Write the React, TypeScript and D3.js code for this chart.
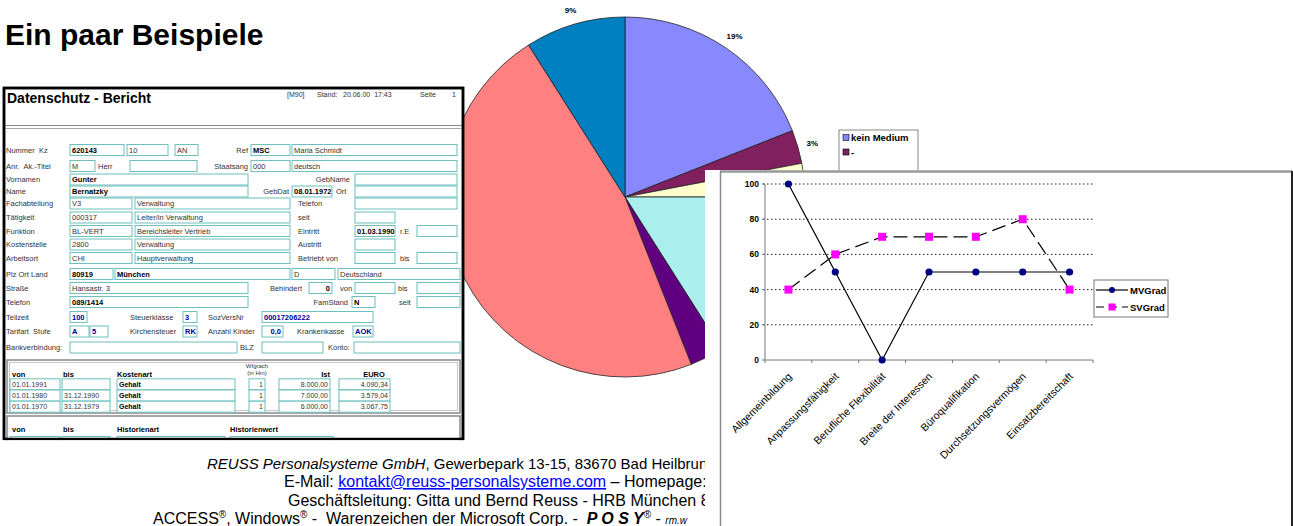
import React from 'react';
import * as d3 from 'd3';

const W = 1293;
const H = 526;
const FONT = 'Liberation Sans, Arial, Helvetica, sans-serif';
const NB = '\u00A0';

// Liniendiagramm
const categories = ['Allgemeinbildung', 'Anpassungsfähigkeit', 'Berufliche Flexibilität', 'Breite der Interessen', 'Büroqualifikation', 'Durchsetzungsvermögen', 'Einsatzbereitschaft'];
const mvGrad = [100, 50, 0, 50, 50, 50, 50];
const svGrad = [40, 60, 70, 70, 70, 80, 40];
const yTicks = [0, 20, 40, 60, 80, 100];
const seriesNames = ['MVGrad', 'SVGrad'];

// Kreisdiagramm
const pieValues = [19, 3, 3, 16, 3, 47, 9];
const pieColors = ['#8888ff', '#80205f', '#ffffcc', '#aaeeee', '#600080', '#ff8080', '#0080c0'];
const pieLabels = ['19%', '3%', '3%', '16%', '', '47%', '9%'];
const pieLegend = ['kein Medium', '-'];

// Formular (Screenshot)
type Box = [number, number, string, string?];
type Txt = [number, string, string?];
type Row = { y: number; label: string; boxes: Box[]; texts: Txt[] };

const formRows: Row[] = [
  { y: 150, label: 'Nummer  Kz', boxes: [[70, 124, '620143', 'b'], [127, 168, '10'], [175, 198, 'AN'], [251, 290, 'MSC', 'b'], [292, 457, 'Maria Schmidt']], texts: [[248, 'Ref', 'end']] },
  { y: 166, label: 'Anr.  Ak.-Titel', boxes: [[70, 95, 'M'], [130, 197, ''], [251, 290, '000'], [292, 457, 'deutsch']], texts: [[98, 'Herr'], [248, 'Staatsang', 'end']] },
  { y: 179.5, label: 'Vornamen', boxes: [[70, 248, 'Gunter', 'b'], [355, 457, '']], texts: [[350, 'GebName', 'end']] },
  { y: 191.5, label: 'Name', boxes: [[70, 248, 'Bernatzky', 'b'], [292, 332, '08.01.1972', 'b'], [355, 457, '']], texts: [[289, 'GebDat', 'end'], [336, 'Ort']] },
  { y: 203.5, label: 'Fachabteilung', boxes: [[70, 132, 'V3'], [135, 290, 'Verwaltung'], [355, 457, '']], texts: [[298, 'Telefon']] },
  { y: 217.5, label: 'Tätigkeit', boxes: [[70, 132, '000317'], [135, 290, 'Leiter/in Verwaltung'], [355, 395, '']], texts: [[298, 'seit']] },
  { y: 231, label: 'Funktion', boxes: [[70, 132, 'BL-VERT'], [135, 290, 'Bereichsleiter Vertrieb'], [355, 395, '01.03.1990', 'b'], [417, 457, '']], texts: [[298, 'Eintritt'], [400, 'r.E']] },
  { y: 244.5, label: 'Kostenstelle', boxes: [[70, 132, '2800'], [135, 290, 'Verwaltung'], [355, 395, '']], texts: [[298, 'Austritt']] },
  { y: 258, label: 'Arbeitsort', boxes: [[70, 132, 'CHI'], [135, 290, 'Hauptverwaltung'], [355, 395, ''], [417, 457, '']], texts: [[298, 'Betriebt von'], [400, 'bis']] },
  { y: 274, label: 'Plz Ort Land', boxes: [[70, 113, '80919', 'b'], [115, 290, 'München', 'b'], [292, 335, 'D'], [338, 460, 'Deutschland']], texts: [] },
  { y: 288, label: 'Straße', boxes: [[70, 248, 'Hansastr. 3'], [309, 332, '0', 'br'], [355, 395, ''], [417, 460, '']], texts: [[302, 'Behindert', 'end'], [340, 'von'], [398, 'bis']] },
  { y: 302, label: 'Telefon', boxes: [[70, 248, '089/1414', 'b'], [352, 375, 'N', 'b'], [417, 460, '']], texts: [[348, 'FamStand', 'end'], [399, 'seit']] },
  { y: 317, label: 'Teilzeit', boxes: [[70, 87, '100', 'u'], [183, 197, '3', 'u'], [262, 373, '00017206222', 'u']], texts: [[130, 'Steuerklasse'], [208, 'SozVersNr']] },
  { y: 331.5, label: 'Tarifart  Stufe', boxes: [[70, 89, 'A', 'u'], [90, 108, '5', 'u'], [183, 197, 'RK', 'u'], [262, 283, '0,0', 'ur'], [353, 373, 'AOK', 'u']], texts: [[130, 'Kirchensteuer'], [208, 'Anzahl Kinder'], [297, 'Krankenkasse']] },
  { y: 347.5, label: 'Bankverbindung:', boxes: [[70, 237, ''], [262, 323, ''], [354, 460, '']], texts: [[240, 'BLZ'], [328, 'Konto:']] },
];

const payCols: [number, number, string][] = [[10, 60, 'l'], [62, 110, 'l'], [117, 235, 'b'], [249, 265, 'r'], [279, 330, 'r'], [339, 390, 'r']];
const payRows = [
  ['01.01.1991', '', 'Gehalt', '1', '8.000,00', '4.090,34'],
  ['01.01.1980', '31.12.1990', 'Gehalt', '1', '7.000,00', '3.579,04'],
  ['01.01.1970', '31.12.1979', 'Gehalt', '1', '6.000,00', '3.067,75'],
];

function FormBox({ b, y }: { b: Box; y: number }) {
  const [x1, x2, text, f = ''] = b;
  const bold = f.includes('b') || f.includes('u');
  const right = f.includes('r');
  return (
    <g>
      <rect x={x1} y={y - 5.5} width={x2 - x1} height={11} fill="#fff" stroke="#6cc0c0" strokeWidth={1} />
      {text && (
        <text x={right ? x2 - 2 : x1 + 2} y={y + 2.7} textAnchor={right ? 'end' : 'start'} fontSize={7.5}
          fontWeight={bold ? 'bold' : 'normal'} fill={f.includes('u') ? '#000099' : bold ? '#000' : '#333'}>{text}</text>
      )}
    </g>
  );
}

function Formular() {
  return (
    <g fontFamily={FONT}>
      <rect x={4} y={88} width={459} height={351} fill="#fff" stroke="#000" strokeWidth={2.5} />
      <text x={7} y={103} fontSize={14} fontWeight="bold">Datenschutz - Bericht</text>
      <g fontSize={7} fill="#333">
        <text x={287} y={97}>[M90]</text>
        <text x={317} y={97}>Stand:</text>
        <text x={343} y={97}>{`20.06.00${NB}${NB}17:43`}</text>
        <text x={420} y={97}>Seite</text>
        <text x={452} y={97}>1</text>
      </g>
      <line x1={5} x2={462} y1={125.5} y2={125.5} stroke="#888" strokeWidth={1.2} />
      <line x1={5} x2={462} y1={128.5} y2={128.5} stroke="#aaa" strokeWidth={1.2} />
      {formRows.map((r, i) => (
        <g key={i}>
          <text x={6} y={r.y + 2.7} fontSize={7.5} fill="#333">{r.label.replace(/  /g, NB + NB)}</text>
          {r.boxes.map((b, j) => <FormBox key={j} b={b} y={r.y} />)}
          {r.texts.map((t, j) => (
            <text key={j} x={t[0]} y={r.y + 2.7} fontSize={7.5} fill="#333" textAnchor={t[2] === 'end' ? 'end' : 'start'}>{t[1]}</text>
          ))}
        </g>
      ))}
      {/* Tabelle Kostenarten */}
      <rect x={7} y={360} width={453} height={53} fill="#fff" stroke="#888" strokeWidth={1.5} />
      <rect x={9.5} y={362.5} width={448} height={48} fill="none" stroke="#bbb" strokeWidth={0.8} />
      <g fontSize={7.5} fontWeight="bold">
        <text x={12} y={377}>von</text>
        <text x={63} y={377}>bis</text>
        <text x={117} y={377}>Kostenart</text>
        <text x={330} y={377} textAnchor="end">Ist</text>
        <text x={374} y={377} textAnchor="middle">EURO</text>
      </g>
      <text x={257} y={368} fontSize={6} textAnchor="middle" fill="#333">Wfgrach</text>
      <text x={257} y={375} fontSize={6} textAnchor="middle" fill="#333">(in Hm)</text>
      {payRows.map((row, i) => (
        <g key={i}>
          {row.map((v, j) => {
            const [x1, x2, a] = payCols[j];
            const y = 384.3 + i * 11.2;
            return (
              <g key={j}>
                <rect x={x1} y={y - 5.5} width={x2 - x1} height={11} fill="#fff" stroke="#6cc0c0" strokeWidth={1} />
                <text x={a === 'r' ? x2 - 2 : x1 + 2} y={y + 2.7} fontSize={7} textAnchor={a === 'r' ? 'end' : 'start'}
                  fontWeight={a === 'b' ? 'bold' : 'normal'} fill={a === 'b' ? '#000' : '#333'}>{v}</text>
              </g>
            );
          })}
        </g>
      ))}
      {/* Tabelle Historie */}
      <rect x={7} y={416} width={453} height={30} fill="#fff" stroke="#888" strokeWidth={1.5} />
      <g fontSize={7.5} fontWeight="bold">
        <text x={12} y={432}>von</text>
        <text x={63} y={432}>bis</text>
        <text x={117} y={432}>Historienart</text>
        <text x={230} y={432}>Historienwert</text>
      </g>
      {[[10, 60], [62, 110], [117, 225], [230, 333]].map(([a, b], i) => (
        <rect key={i} x={a} y={436.5} width={b - a} height={11} fill="#fff" stroke="#6cc0c0" strokeWidth={1} />
      ))}
      <rect x={4} y={88} width={459} height={351} fill="none" stroke="#000" strokeWidth={2.5} />
      <rect x={0} y={440.3} width={470} height={10} fill="#fff" />
    </g>
  );
}

function Kreis() {
  const cx = 625;
  const cy = 197;
  const arcs = d3.pie<number>().sort(null).startAngle(0).endAngle(2 * Math.PI)(pieValues);
  const arc = d3.arc<d3.PieArcDatum<number>>().innerRadius(0).outerRadius(180);
  const labelArc = d3.arc<d3.PieArcDatum<number>>().innerRadius(195).outerRadius(195);
  return (
    <g fontFamily={FONT}>
      <g transform={`translate(${cx},${cy})`}>
        {arcs.map((a, i) => (
          <path key={i} d={arc(a) || ''} fill={pieColors[i]} stroke="#222" strokeWidth={0.8} strokeLinejoin="round" />
        ))}
        {arcs.map((a, i) => {
          const [lx, ly] = labelArc.centroid(a);
          return (
            <text key={i} x={lx} y={ly + 3} textAnchor="middle" fontSize={8} fontWeight="bold">{pieLabels[i]}</text>
          );
        })}
      </g>
      <rect x={839} y={130} width={79} height={60} fill="#fff" stroke="#888" strokeWidth={1} />
      {pieLegend.map((n, i) => (
        <g key={n} transform={`translate(843,${138 + i * 14.5})`}>
          <rect x={0} y={-3.5} width={6} height={6} fill={pieColors[i]} stroke="#000" strokeWidth={0.6} />
          <text x={8} y={3} fontSize={9.5} fontWeight="bold">{n}</text>
        </g>
      ))}
    </g>
  );
}

function Fusszeile() {
  return (
    <g fontFamily={FONT} fontSize={16} fill="#000">
      <text x={207} y={469} fontSize={15}>
        <tspan fontStyle="italic">REUSS Personalsysteme GmbH</tspan>, Gewerbepark 13-15, 83670 Bad Heilbrunn
      </text>
      <text x={284} y={487}>
        E-Mail: <tspan fill="#0000ff" style={{ textDecoration: 'underline' }}>kontakt@reuss-personalsysteme.com</tspan> – Homepage: www.reuss-personalsysteme.com
      </text>
      <text x={288} y={506}>Geschäftsleitung: Gitta und Bernd Reuss - HRB München 8</text>
      <text x={153} y={524}>
        ACCESS<tspan fontSize={10} dy={-6}>®</tspan><tspan dy={6}>, Windows</tspan><tspan fontSize={10} dy={-6}>®</tspan>
        <tspan dy={6}>{`${NB}-${NB}${NB}Warenzeichen der Microsoft Corp.${NB}-${NB}${NB}`}</tspan>
        <tspan fontWeight="bold" fontStyle="italic">P O S Y</tspan><tspan fontSize={10} dy={-6}>®</tspan>
        <tspan dy={6}>{`${NB}-${NB}`}</tspan><tspan fontSize={10} fontStyle="italic">rm.w</tspan>
      </text>
    </g>
  );
}

function Linien() {
  const x = d3.scaleBand<string>().domain(categories).range([765, 1093]);
  const y = d3.scaleLinear().domain([0, 100]).range([360, 184]);
  const px = (i: number) => (x(categories[i]) as number) + x.bandwidth() / 2;
  const line = d3.line<number>().x((_, i) => px(i)).y((d) => y(d));
  const bounds = categories.map((c) => x(c) as number).concat([1093]);
  return (
    <g fontFamily={FONT}>
      <rect x={705} y={170} width={588} height={360} fill="#fff" />
      <line x1={720} x2={1292} y1={171.5} y2={171.5} stroke="#999" strokeWidth={2.5} />
      <line x1={720.5} x2={720.5} y1={171} y2={526} stroke="#888" strokeWidth={1.5} />
      <line x1={1292} x2={1292} y1={171} y2={526} stroke="#222" strokeWidth={2} />
      {yTicks.filter((t) => t > 0).map((t) => (
        <line key={t} x1={763} x2={1093} y1={y(t)} y2={y(t)} stroke="#000" strokeWidth={0.9} strokeDasharray="1.5,2.5" />
      ))}
      {yTicks.map((t) => (
        <g key={t}>
          <line x1={762} x2={765} y1={y(t)} y2={y(t)} stroke="#777" />
          <text x={759} y={y(t) + 3} textAnchor="end" fontSize={8.5} fontWeight="bold">{t}</text>
        </g>
      ))}
      <line x1={765} x2={765} y1={y(100)} y2={y(0)} stroke="#777" strokeWidth={1} />
      <line x1={765} x2={1093} y1={y(0)} y2={y(0)} stroke="#777" strokeWidth={1} />
      {bounds.map((b, i) => (
        <line key={i} x1={b} x2={b} y1={y(0)} y2={y(0) + 3} stroke="#777" />
      ))}
      {categories.map((c, i) => (
        <text key={c} transform={`translate(${px(i) + 4},${377}) rotate(-45)`} textAnchor="end" fontSize={10.5} fill="#000">{c}</text>
      ))}
      <path d={line(svGrad) || ''} fill="none" stroke="#000" strokeWidth={1.2} strokeDasharray="14,6" />
      <path d={line(mvGrad) || ''} fill="none" stroke="#000" strokeWidth={1.2} />
      {svGrad.map((v, i) => (
        <rect key={i} x={px(i) - 4} y={y(v) - 4} width={8} height={8} fill="#ff00ff" />
      ))}
      {mvGrad.map((v, i) => (
        <circle key={i} cx={px(i)} cy={y(v)} r={3.6} fill="#000080" />
      ))}
      <rect x={1094} y={280} width={74} height={37} fill="#fff" stroke="#777" strokeWidth={1} />
      {seriesNames.map((n, i) => {
        const ly = 290 + i * 17;
        return (
          <g key={n}>
            <line x1={1096} x2={1128} y1={ly} y2={ly} stroke="#000" strokeWidth={1.2} strokeDasharray={i ? '8,5' : undefined} />
            {i === 0 ? <circle cx={1112} cy={ly} r={3} fill="#000080" /> : <rect x={1108.5} y={ly - 3.5} width={7} height={7} fill="#ff00ff" />}
            <text x={1130} y={ly + 3.5} fontSize={9.5} fontWeight="bold">{n}</text>
          </g>
        );
      })}
    </g>
  );
}

export default function App() {
  return (
    <svg width={W} height={H} style={{ position: 'absolute', left: 0, top: 0, background: '#fff' }}>
      <rect x={0} y={0} width={W} height={H} fill="#fff" />
      <text x={5} y={45} fontFamily={FONT} fontSize={30} fontWeight="bold">Ein paar Beispiele</text>
      <Kreis />
      <Formular />
      <Fusszeile />
      <Linien />
    </svg>
  );
}
